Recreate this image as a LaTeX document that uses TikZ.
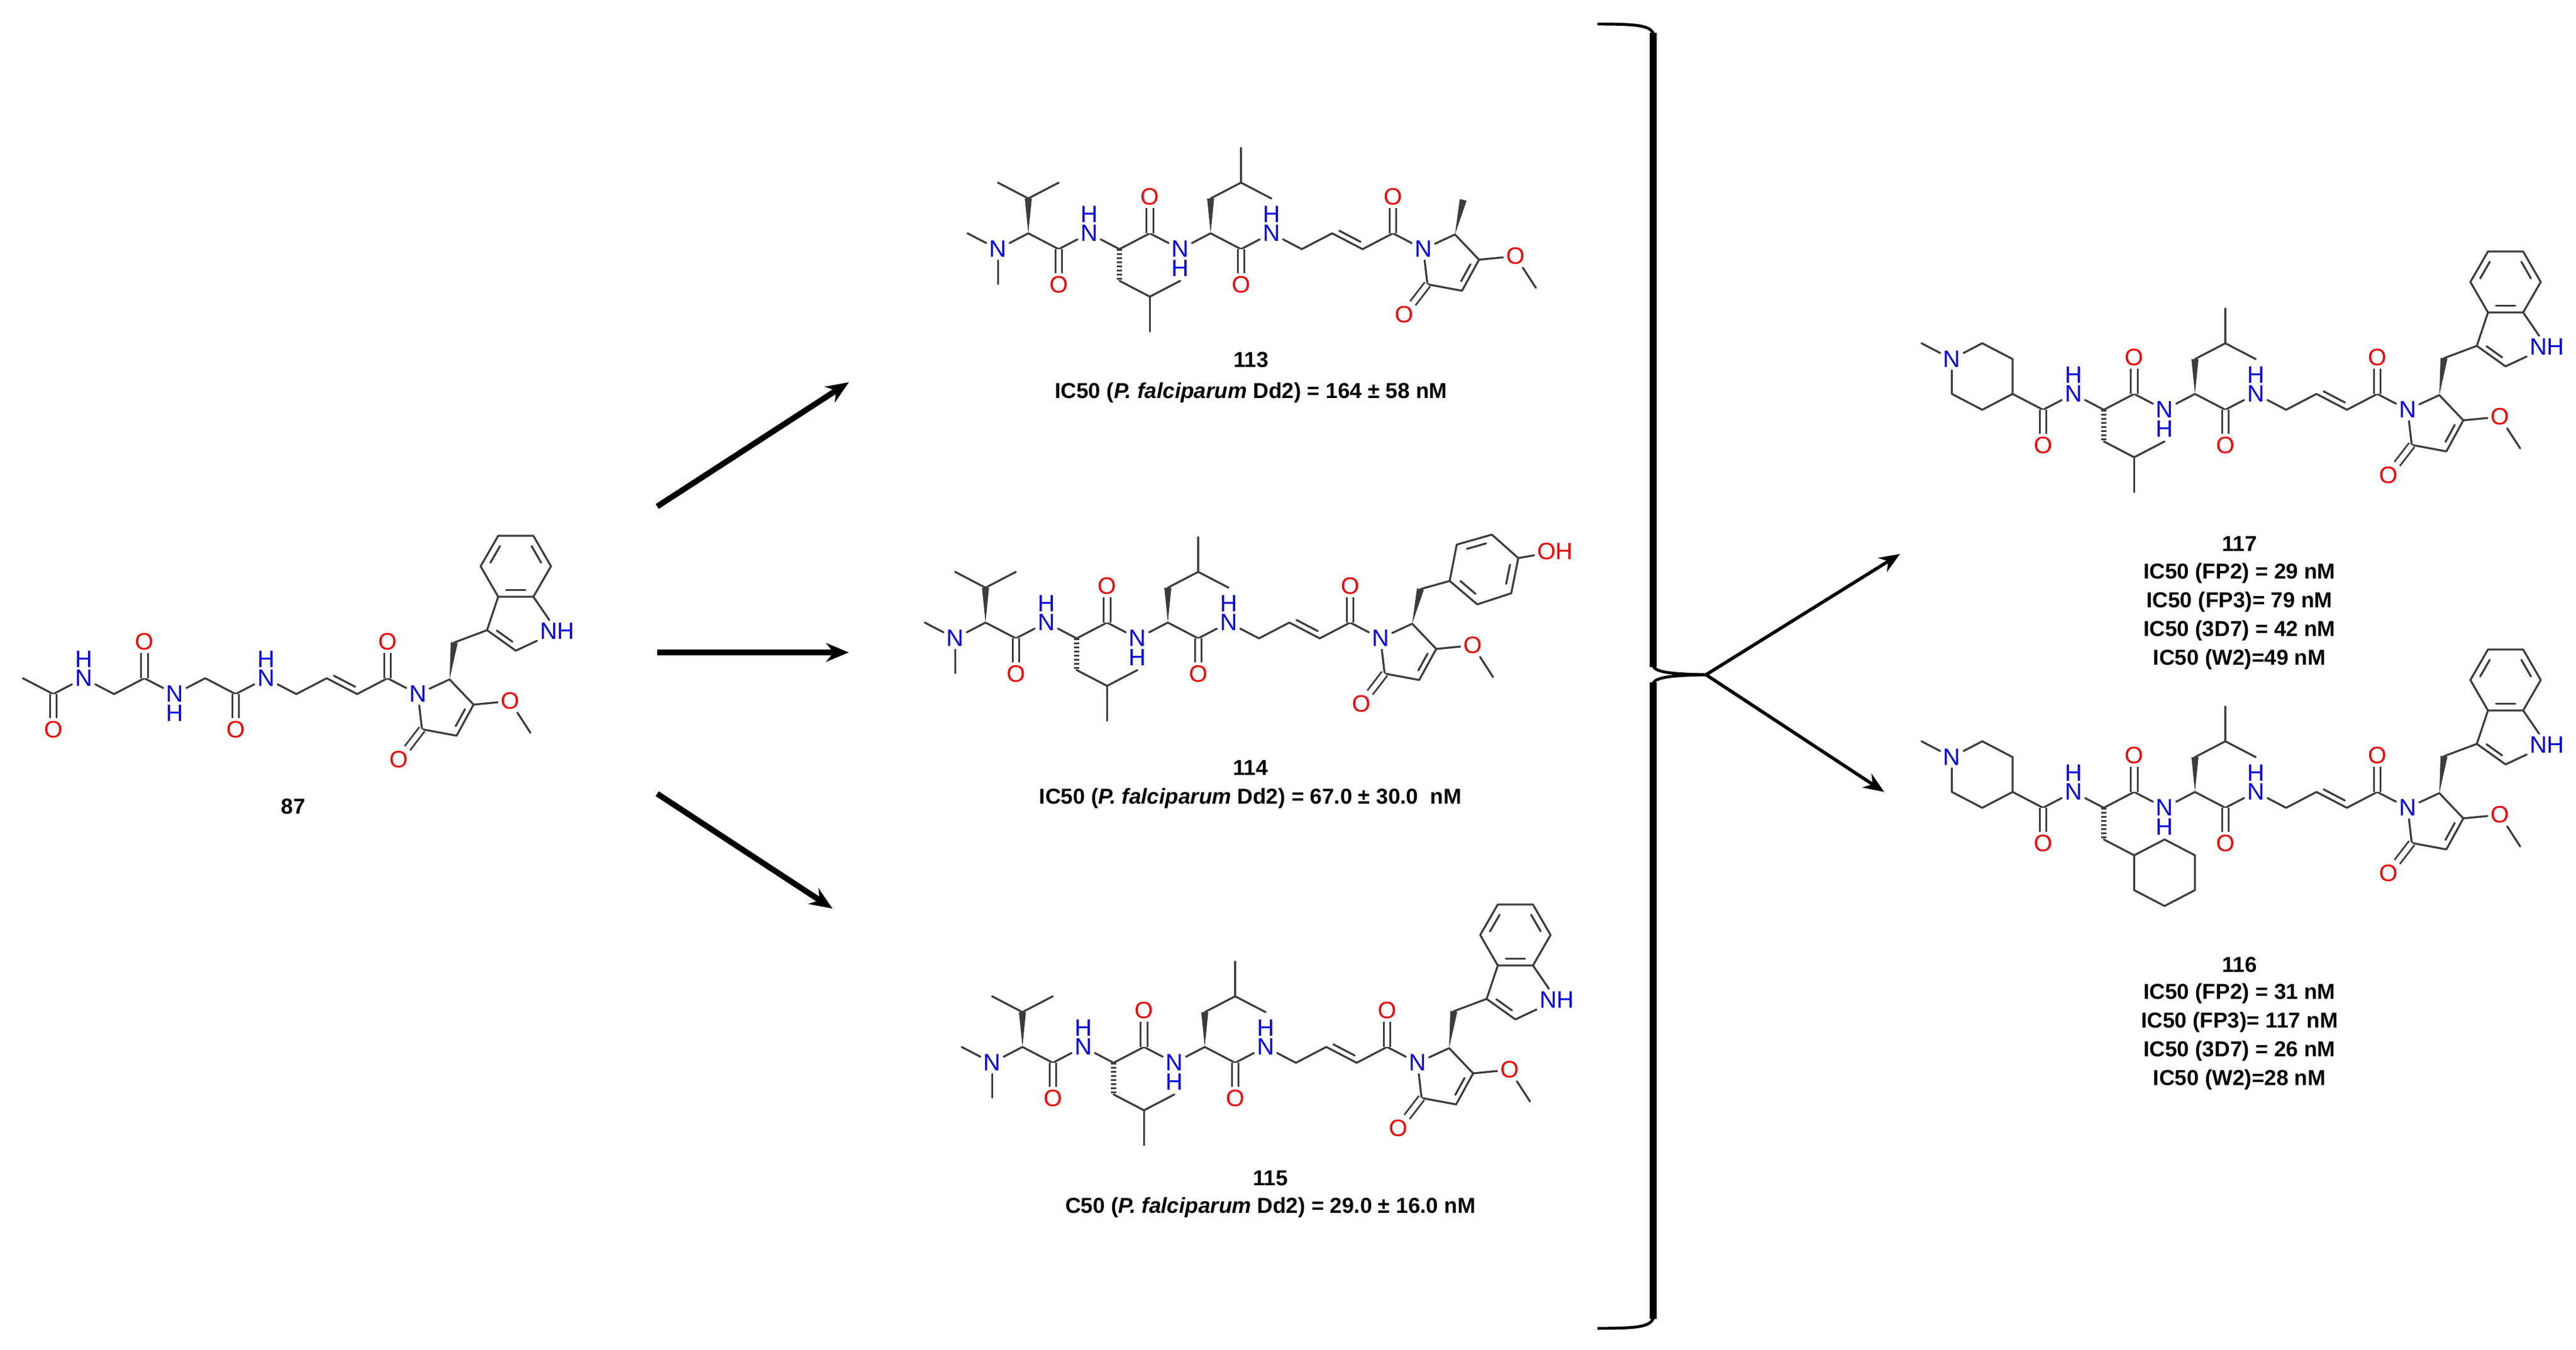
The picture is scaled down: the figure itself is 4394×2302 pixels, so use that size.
\documentclass[tikz,border=0pt]{standalone}
\usepackage{fontspec}
\setmainfont{Liberation Sans}
\usetikzlibrary{calc,arrows.meta}
\definecolor{bondgray}{RGB}{60,60,60}
\definecolor{nblue}{RGB}{0,0,235}
\definecolor{ored}{RGB}{245,0,0}
\newcommand{\atomfont}{\fontsize{11.5}{12}\selectfont}
\tikzset{
 bond/.style={draw=bondgray, line width=0.95pt, line cap=round, line join=round},
 dbl/.style={draw=bondgray, double=white, double distance=2.4pt, line width=0.85pt},
 atN/.style={text=nblue, font=\atomfont, inner sep=1.3pt},
 atO/.style={text=ored, font=\atomfont, inner sep=1.3pt},
 captxt/.style={font=\fontsize{10.5}{12}\selectfont\bfseries, inner sep=0pt},
 bigarrow/.style={line width=2.8pt, -{Stealth[length=11pt,width=9pt]}},
 smallarrow/.style={line width=1.6pt, -{Stealth[length=10pt,width=8pt]}},
 molgrid/.style={x=0.518cm, y=-0.27cm},
 pxup/.style={x=0.01cm, y=0.01cm}
}
\newcommand{\wdg}[2]{\fill[bondgray] (#1) -- ($(#2)!1.7pt!90:(#1)$) -- ($(#2)!1.7pt!-90:(#1)$) -- cycle;}
\newcommand{\hsh}[2]{\draw[bondgray, line width=2.8pt, dash pattern=on 0.8pt off 1.2pt] (#1) -- (#2);}
\newcommand{\dblin}[4]{\draw[bond] ($(#1)!.15!(#2)!2.7pt!#3:(#2)$) -- ($(#2)!.15!(#1)!2.7pt!#4:(#1)$);}
\newcommand{\dblc}[3]{\draw[bond] ($(#1)!.15!(#2)!.22!(#3)$) -- ($(#2)!.15!(#1)!.22!(#3)$);}
\newcommand{\pepchain}[1]{%
 \coordinate (#1c0) at (0,0);
 \coordinate (#1c1) at (1,1);
 \node[atO] (#1o1) at (1,3.25) {O};
 \node[atN] (#1n2) at (2,0) {N};
 \node[atN] (#1h2) at (2,-1.2) {H};
 \coordinate (#1c3) at (3,1);
 \coordinate (#1c4) at (4,0);
 \node[atO] (#1o4) at (4,-2.3) {O};
 \node[atN] (#1n5) at (5,1) {N};
 \node[atN] (#1h5) at (5,2.2) {H};
 \coordinate (#1c6) at (6,0);
 \coordinate (#1c7) at (7,1);
 \node[atO] (#1o7) at (7,3.25) {O};
 \node[atN] (#1n8) at (8,0) {N};
 \node[atN] (#1h8) at (8,-1.2) {H};
 \coordinate (#1c9) at (9,1);
 \coordinate (#1c10) at (10,0);
 \coordinate (#1c11) at (11,1);
 \coordinate (#1c12) at (12,0);
 \node[atO] (#1o12) at (12,-2.3) {O};
 \node[atN] (#1n13) at (13,1) {N};
 \draw[bond] (#1c0)--(#1c1)--(#1n2)--(#1c3)--(#1c4)--(#1n5)--(#1c6)--(#1c7)--(#1n8)--(#1c9)--(#1c10)--(#1c11)--(#1c12)--(#1n13);
 \draw[dbl] (#1c1)--(#1o1);
 \draw[dbl] (#1c4)--(#1o4);
 \draw[dbl] (#1c7)--(#1o7);
 \draw[dbl] (#1c12)--(#1o12);
 \dblin{#1c10}{#1c11}{90}{-90}
}
\newcommand{\pyrring}[1]{%
 \begin{scope}[shift={(13,1)}, pxup]
 \coordinate (#1ra) at (54,25);
 \coordinate (#1rb) at (95,-18);
 \coordinate (#1rc) at (66,-71);
 \coordinate (#1rd) at (7,-60);
 \coordinate (#1rctr) at (44,-25);
 \node[atO] (#1ro2) at (-33,-112) {O};
 \node[atO] (#1ro3) at (157,-12) {O};
 \coordinate (#1rme) at (192,-66);
 \draw[bond] (#1n13)--(#1ra)--(#1rb)--(#1rc)--(#1rd)--(#1n13);
 \draw[bond] (#1rb)--(#1ro3)--(#1rme);
 \draw[dbl] (#1rd)--(#1ro2);
 \dblc{#1rb}{#1rc}{#1rctr}
 \end{scope}}
\newcommand{\indole}[1]{%
 \begin{scope}[shift={(13,1)}, pxup]
 \coordinate (#1i0) at (62,88);
 \coordinate (#1i3) at (118,109);
 \coordinate (#1i3a) at (137,166);
 \coordinate (#1i7a) at (197,166);
 \node[atN, anchor=west] (#1inh) at (203,107) {NH};
 \coordinate (#1i2) at (167,74);
 \coordinate (#1i4) at (107,218);
 \coordinate (#1i5) at (137,270);
 \coordinate (#1i6) at (197,270);
 \coordinate (#1i7) at (227,218);
 \coordinate (#1ipc) at (167,125);
 \coordinate (#1ibc) at (167,218);
 \wdg{#1ra}{#1i0}
 \draw[bond] (#1i0)--(#1i3)--(#1i3a)--(#1i7a)--(#1inh)--(#1i2)--(#1i3);
 \draw[bond] (#1i3a)--(#1i4)--(#1i5)--(#1i6)--(#1i7)--(#1i7a);
 \dblc{#1i2}{#1i3}{#1ipc}
 \dblc{#1i4}{#1i5}{#1ibc}
 \dblc{#1i6}{#1i7}{#1ibc}
 \dblc{#1i3a}{#1i7a}{#1ibc}
 \end{scope}}
\newcommand{\valterm}[1]{%
 \coordinate (#1v1) at (0,-2.2);
 \coordinate (#1v2) at (-1,-3.2);
 \coordinate (#1v3) at (1,-3.2);
 \node[atN] (#1nm) at (-1,1) {N};
 \coordinate (#1m1) at (-2,0);
 \coordinate (#1m2) at (-1,3.2);
 \wdg{#1c0}{#1v1}
 \draw[bond] (#1v2)--(#1v1)--(#1v3);
 \draw[bond] (#1c0)--(#1nm)--(#1m1);
 \draw[bond] (#1nm)--(#1m2);}
\newcommand{\pipterm}[1]{%
 \coordinate (#1p1) at (0,-2.2);
 \coordinate (#1p2) at (-1,-3.2);
 \node[atN] (#1pn) at (-2,-2.2) {N};
 \coordinate (#1p4) at (-2,0);
 \coordinate (#1p5) at (-1,1);
 \coordinate (#1pm) at (-3,-3.2);
 \draw[bond] (#1c0)--(#1p1)--(#1p2)--(#1pn)--(#1p4)--(#1p5)--(#1c0);
 \draw[bond] (#1pn)--(#1pm);}
\newcommand{\leuA}[1]{%
 \coordinate (#1l1) at (3,3);
 \coordinate (#1l2) at (4,4);
 \coordinate (#1l3) at (5,3);
 \coordinate (#1l4) at (4,6.2);
 \hsh{#1c3}{#1l1}
 \draw[bond] (#1l1)--(#1l2)--(#1l3);
 \draw[bond] (#1l2)--(#1l4);}
\newcommand{\chxA}[1]{%
 \coordinate (#1l1) at (3,3);
 \coordinate (#1l2) at (4,4);
 \coordinate (#1l3) at (5,3);
 \coordinate (#1l5) at (6,4);
 \coordinate (#1l6) at (6,6.2);
 \coordinate (#1l7) at (5,7.2);
 \coordinate (#1l4) at (4,6.2);
 \hsh{#1c3}{#1l1}
 \draw[bond] (#1l1)--(#1l2)--(#1l3)--(#1l5)--(#1l6)--(#1l7)--(#1l4)--(#1l2);}
\newcommand{\leuB}[1]{%
 \coordinate (#1u1) at (6,-2.2);
 \coordinate (#1u2) at (7,-3.2);
 \coordinate (#1u3) at (7,-5.4);
 \coordinate (#1u4) at (8,-2.2);
 \wdg{#1c6}{#1u1}
 \draw[bond] (#1u1)--(#1u2)--(#1u3);
 \draw[bond] (#1u2)--(#1u4);}
\begin{document}
\begin{tikzpicture}[x=0.01cm, y=-0.01cm]
\useasboundingbox (0,0) rectangle (4394,2302);
% ---- 87
\begin{scope}[shift={(39,1157)}, molgrid]
 \pepchain{a}
 \pyrring{a}
 \indole{a}
\end{scope}
\node[captxt] (l87) at (500,1376) {87};
% ---- 113
\begin{scope}[shift={(1754,398)}, molgrid]
 \pepchain{b}
 \valterm{b}
 \leuA{b}
 \leuB{b}
 \pyrring{b}
 \begin{scope}[shift={(13,1)}, pxup]
 \coordinate (bme) at (68,84);
 \wdg{bra}{bme}
 \end{scope}
\end{scope}
\node[captxt] (l113) at (2134,614) {113};
\node[captxt] (t113) at (2134,670) {IC50 (\textit{P.\ falciparum} Dd2) = 164 ± 58 nM};
% ---- 114
\begin{scope}[shift={(1681,1062)}, molgrid]
 \pepchain{c}
 \valterm{c}
 \leuA{c}
 \leuB{c}
 \pyrring{c}
 \begin{scope}[shift={(13,1)}, pxup]
 \coordinate (cb0) at (68,84);
 \coordinate (cb1) at (118,98);
 \coordinate (cb2) at (130,160);
 \coordinate (cb3) at (190,177);
 \coordinate (cb4) at (235,137);
 \coordinate (cb5) at (223,77);
 \coordinate (cb6) at (165,58);
 \coordinate (cbc) at (177,118);
 \node[atO, anchor=west] (coh) at (262,148) {OH};
 \wdg{cra}{cb0}
 \draw[bond] (cb0)--(cb1)--(cb2)--(cb3)--(cb4)--(cb5)--(cb6)--(cb1);
 \draw[bond] (cb4)--(coh);
 \dblc{cb2}{cb3}{cbc}
 \dblc{cb4}{cb5}{cbc}
 \dblc{cb6}{cb1}{cbc}
 \end{scope}
\end{scope}
\node[captxt] (l114) at (2133,1310) {114};
\node[captxt] (t114) at (2133,1362) {IC50 (\textit{P.\ falciparum} Dd2) = 67.0 ± 30.0~~nM};
% ---- 115
\begin{scope}[shift={(1744,1786)}, molgrid]
 \pepchain{d}
 \valterm{d}
 \leuA{d}
 \leuB{d}
 \pyrring{d}
 \indole{d}
\end{scope}
\node[captxt] (l115) at (2167,2010) {115};
\node[captxt] (t115) at (2167,2060) {C50 (\textit{P.\ falciparum} Dd2) = 29.0 ± 16.0 nM};
% ---- 117
\begin{scope}[shift={(3433,672)}, molgrid]
 \pepchain{e}
 \pipterm{e}
 \leuA{e}
 \leuB{e}
 \pyrring{e}
 \indole{e}
\end{scope}
\node[captxt] (l117) at (3820,928) {117};
\node[captxt] (t117a) at (3820,978) {IC50 (FP2) = 29 nM};
\node[captxt] (t117b) at (3820,1027) {IC50 (FP3)= 79 nM};
\node[captxt] (t117c) at (3820,1076) {IC50 (3D7) = 42 nM};
\node[captxt] (t117d) at (3820,1125) {IC50 (W2)=49 nM};
% ---- 116
\begin{scope}[shift={(3433,1351)}, molgrid]
 \pepchain{f}
 \pipterm{f}
 \chxA{f}
 \leuB{f}
 \pyrring{f}
 \indole{f}
\end{scope}
\node[captxt] (l116) at (3820,1646) {116};
\node[captxt] (t116a) at (3820,1695) {IC50 (FP2) = 31 nM};
\node[captxt] (t116b) at (3820,1744) {IC50 (FP3)= 117 nM};
\node[captxt] (t116c) at (3820,1793) {IC50 (3D7) = 26 nM};
\node[captxt] (t116d) at (3820,1842) {IC50 (W2)=28 nM};
% ---- arrows left
\coordinate (s1) at (1121,864);  \coordinate (e1) at (1448,652);
\coordinate (s2) at (1121,1113); \coordinate (e2) at (1448,1113);
\coordinate (s3) at (1121,1354); \coordinate (e3) at (1420,1550);
\draw[bigarrow] (s1) -- (e1);
\draw[bigarrow] (s2) -- (e2);
\draw[bigarrow] (s3) -- (e3);
% ---- bracket
\coordinate (tip) at (2910,1151);
\coordinate (e4) at (3241,945);
\coordinate (e5) at (3214,1351);
\draw[line width=1.4pt] (2725,41) .. controls (2790,41) and (2816,43) .. (2820,58);
\draw[line width=3.6pt] (2820,56) -- (2820,1138);
\draw[line width=1.4pt] (2820,1136) .. controls (2823,1148) and (2860,1150) .. (tip);
\draw[line width=1.4pt] (2820,1166) .. controls (2823,1154) and (2860,1152) .. (tip);
\draw[line width=3.6pt] (2820,1164) -- (2820,2250);
\draw[line width=1.4pt] (2725,2266) .. controls (2790,2266) and (2816,2264) .. (2820,2248);
\draw[smallarrow] (tip) -- (e4);
\draw[smallarrow] (tip) -- (e5);
\end{tikzpicture}
\end{document}
